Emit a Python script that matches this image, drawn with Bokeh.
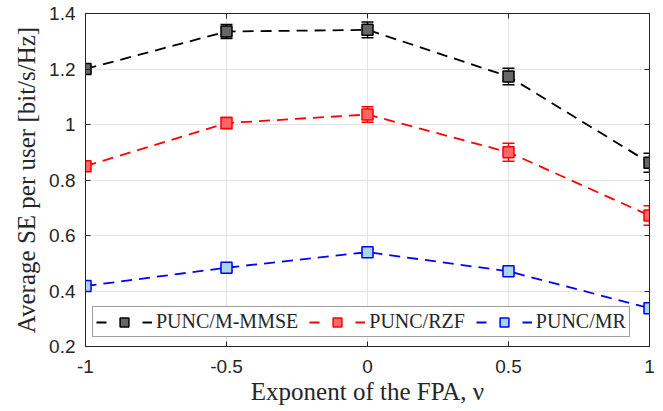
from bokeh.plotting import figure
from bokeh.models import (ColumnDataSource, Whisker, TeeHead, Legend, LegendItem,
                          LinearAxis, FixedTicker, Range1d)
from bokeh.embed import file_html
from bokeh.resources import INLINE

# ---- data ----
nu = [-1.0, -0.5, 0.0, 0.5, 1.0]
se_mmse = [1.200, 1.335, 1.341, 1.173, 0.862]
err_mmse = [0.010, 0.025, 0.028, 0.030, 0.034]
se_rzf = [0.850, 1.005, 1.036, 0.900, 0.672]
err_rzf = [0.010, 0.020, 0.028, 0.032, 0.035]
se_mr = [0.418, 0.484, 0.540, 0.471, 0.338]
err_mr = [0.008, 0.009, 0.010, 0.010, 0.010]
labels = ["PUNC/M-MMSE", "PUNC/RZF", "PUNC/MR"]
x_ticks = [-1, -0.5, 0, 0.5, 1]
y_ticks = [0.2, 0.4, 0.6, 0.8, 1.0, 1.2, 1.4]

series = [
    (se_mmse, err_mmse, "#000000", "#666666", labels[0]),
    (se_rzf, err_rzf, "#ff0000", "#ff6666", labels[1]),
    (se_mr, err_mr, "#0000ff", "#a8d8e8", labels[2]),
]

AX = "#262626"
SERIF = "Liberation Serif"
SANS = "Liberation Sans"

p = figure(width=663, height=411, output_backend="svg", toolbar_location=None,
           x_range=Range1d(-1, 1), y_range=Range1d(0.2, 1.4),
           min_border_left=85, min_border_right=14, min_border_top=13,
           min_border_bottom=65)
p.background_fill_color = "white"
p.border_fill_color = "white"
p.outline_line_color = AX
p.outline_line_width = 1

for ax in (p.xaxis[0], p.yaxis[0]):
    ax.axis_line_color = AX
    ax.major_tick_line_color = AX
    ax.major_tick_in = 5
    ax.major_tick_out = 0
    ax.minor_tick_line_color = None
    ax.major_label_text_font = SANS
    ax.major_label_text_font_size = "19px"
    ax.major_label_text_color = AX
    ax.axis_label_text_font = SERIF
    ax.axis_label_text_font_size = "25px"
    ax.axis_label_text_font_style = "normal"
    ax.axis_label_text_color = AX

p.xaxis[0].ticker = FixedTicker(ticks=x_ticks)
p.yaxis[0].ticker = FixedTicker(ticks=y_ticks)
p.xaxis[0].major_label_overrides = {-1: "-1", -0.5: "-0.5", 0: "0", 0.5: "0.5", 1: "1"}
p.yaxis[0].major_label_overrides = {0.2: "0.2", 0.4: "0.4", 0.6: "0.6", 0.8: "0.8",
                                    1.0: "1", 1.2: "1.2", 1.4: "1.4"}
p.xaxis[0].axis_label = "Exponent of the FPA, ν"
p.yaxis[0].axis_label = "Average SE per user [bit/s/Hz]"
p.xaxis[0].major_label_standoff = 13
p.yaxis[0].major_label_standoff = 10
p.xaxis[0].axis_label_standoff = 2
p.yaxis[0].axis_label_standoff = 6

# box ticks on top and right (labels not painted)
top = LinearAxis(ticker=FixedTicker(ticks=x_ticks), major_label_text_font_size="6px",
                 major_label_text_color=None,
                 major_label_standoff=0, major_tick_in=5, major_tick_out=0,
                 minor_tick_line_color=None, axis_line_color=AX, major_tick_line_color=AX)
right = LinearAxis(ticker=FixedTicker(ticks=y_ticks), major_label_text_font_size="6px",
                   major_label_text_color=None,
                   major_label_standoff=0, major_tick_in=5, major_tick_out=0,
                   minor_tick_line_color=None, axis_line_color=AX, major_tick_line_color=AX)
p.add_layout(top, "above")
p.add_layout(right, "right")

p.xgrid.ticker = FixedTicker(ticks=x_ticks)
p.ygrid.ticker = FixedTicker(ticks=y_ticks)
p.grid.grid_line_color = "#e3e3e3"
p.grid.grid_line_width = 1

items = []
for y, e, lc, fc, lab in series:
    src = ColumnDataSource(data=dict(
        x=nu, y=y,
        upper=[a + b for a, b in zip(y, e)],
        lower=[a - b for a, b in zip(y, e)],
    ))
    p.line("x", "y", source=src, line_color=lc, line_width=1.8, line_dash="11 7")
    w = Whisker(base="x", upper="upper", lower="lower", source=src,
                line_color=lc, line_width=1.5,
                upper_head=TeeHead(size=12, line_color=lc, line_width=1.5),
                lower_head=TeeHead(size=12, line_color=lc, line_width=1.5))
    p.add_layout(w)
    sc = p.scatter("x", "y", source=src, marker="square", size=11,
                   fill_color=fc, line_color=lc, line_width=1.5)
    # hidden proxy line only used to draw the legend's "— ▣ —" sample
    lg = p.line("x", "y", source=src, line_color=lc, line_width=1.8,
                line_dash="10 36 10", visible=False)
    items.append(LegendItem(label=lab, renderers=[lg, sc]))

legend = Legend(items=items, orientation="horizontal", location=(7, 9),
                label_text_font=SERIF, label_text_font_size="20px",
                label_text_color=AX, glyph_width=56, glyph_height=22,
                label_standoff=4, spacing=11, padding=3, margin=0,
                border_line_color="#404040", border_line_width=1,
                background_fill_color="white", background_fill_alpha=1.0,
                inactive_fill_alpha=0.0, label_height=20)
p.add_layout(legend, "center")

open("out.html", "w").write(file_html(p, INLINE))
